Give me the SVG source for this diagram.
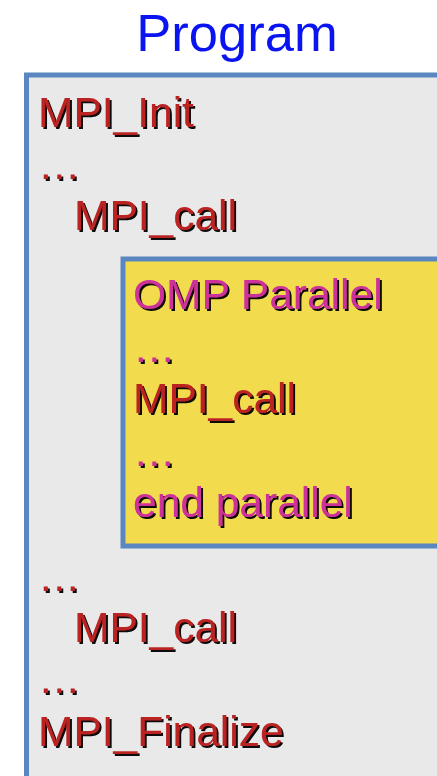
<svg xmlns="http://www.w3.org/2000/svg" width="437" height="776" viewBox="0 0 437 776">
<defs>
<filter id="sh" x="-10%" y="-20%" width="130%" height="150%">
<feDropShadow dx="2" dy="2" stdDeviation="0.3" flood-color="#000" flood-opacity="0.95"/>
</filter>
<style>
.t{font-family:"Liberation Sans",Arial,sans-serif;font-size:42.5px;filter:url(#sh)}
.r{fill:#bb2424}
.m{fill:#cc3399}
.title{font-family:"Liberation Sans",Arial,sans-serif;font-size:52.5px;fill:#0a14f0}
.box{stroke:#5a87c0;stroke-width:5}
</style>
</defs>
<rect width="437" height="776" fill="#ffffff"/>
<text class="title" x="237" y="51" text-anchor="middle">Program</text>
<g id="program">
<rect class="box" x="26.5" y="75" width="430" height="720" fill="#e9e9e9"/>
<text class="t r" x="38" y="127">MPI_Init</text>
<text class="t r" x="38" y="179">…</text>
<text class="t r" x="74" y="230">MPI_call</text>
<text class="t r" x="38" y="591">…</text>
<text class="t r" x="74" y="642">MPI_call</text>
<text class="t r" x="38" y="693">…</text>
<text class="t r" x="38" y="746">MPI_Finalize</text>
</g>
<g id="omp-parallel">
<rect class="box" x="123" y="259" width="330" height="287" fill="#f2dc4e"/>
<text class="t m" x="133" y="309">OMP Parallel</text>
<text class="t m" x="133" y="362">…</text>
<text class="t r" x="133" y="413">MPI_call</text>
<text class="t m" x="133" y="466">…</text>
<text class="t m" x="133" y="517">end parallel</text>
</g>
<g id="connectors"/>
</svg>
